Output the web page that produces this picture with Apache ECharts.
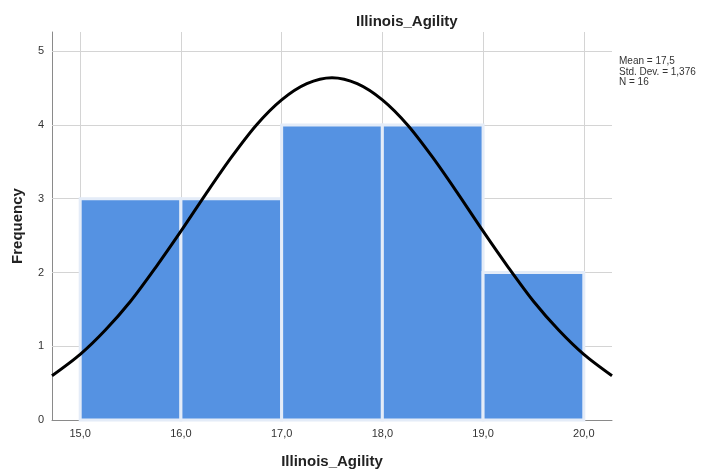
<!DOCTYPE html>
<html>
<head>
<meta charset="utf-8">
<script src="https://cdn.jsdelivr.net/npm/echarts@6/dist/echarts.min.js"></script>
<style>html,body{margin:0;padding:0;background:#fff}#c{width:704px;height:474px}</style>
</head>
<body>
<div id="c"></div>
<script>
// Histogram bins (lower edge, upper edge) and frequencies
var binLo = [15, 16, 17, 18, 19];
var binHi = [16, 17, 18, 19, 20];
var freq  = [3, 3, 4, 4, 2];
// Normal curve points
var curveX = [14.72, 15.0, 15.25, 15.5, 15.75, 16.0, 16.25, 16.5, 16.75, 17.0, 17.25, 17.5, 17.75, 18.0, 18.25, 18.5, 18.75, 19.0, 19.25, 19.5, 19.75, 20.0, 20.28];
var curveY = [0.60, 0.89, 1.22, 1.61, 2.07, 2.56, 3.07, 3.56, 4.00, 4.34, 4.56, 4.64, 4.56, 4.34, 4.00, 3.56, 3.07, 2.56, 2.07, 1.61, 1.22, 0.89, 0.60];
var xTicks = [15, 16, 17, 18, 19, 20];
var yTicks = [0, 1, 2, 3, 4, 5];
var statsLines = ['Mean = 17,5', 'Std. Dev. = 1,376', 'N = 16'];
var titleText = 'Illinois_Agility';
var xName = 'Illinois_Agility';
var yName = 'Frequency';

var FONT = 'Liberation Sans, Arial, sans-serif';
var bars = binLo.map(function (lo, i) { return [lo, binHi[i], freq[i]]; });
var curve = curveX.map(function (x, i) { return [x, curveY[i]]; });

var chart = echarts.init(document.getElementById('c'), null, {renderer: 'canvas'});
chart.setOption({
  animation: false,
  backgroundColor: '#ffffff',
  title: [
    {text: titleText, left: 351, top: 9,
     textStyle: {fontFamily: FONT, fontSize: 15, fontWeight: 'bold', color: '#222'}},
    {text: statsLines.join('\n'), left: 614, top: 51,
     textStyle: {fontFamily: FONT, fontSize: 10, fontWeight: 'normal', color: '#333', lineHeight: 10.5}}
  ],
  grid: {left: 52, right: 92, top: 32, bottom: 52, containLabel: false},
  xAxis: {
    type: 'value', min: 14.72, max: 20.28,
    name: xName, nameLocation: 'middle', nameGap: 34,
    nameTextStyle: {fontFamily: FONT, fontSize: 15, fontWeight: 'bold', color: '#222'},
    axisLine: {show: true, lineStyle: {color: '#8a8a8a', width: 1}},
    axisTick: {show: false},
    splitLine: {show: false},
    axisLabel: {customValues: xTicks, fontFamily: FONT, fontSize: 11, color: '#333', margin: 8,
      formatter: function (v) { return v.toFixed(1).replace('.', ','); }}
  },
  yAxis: {
    type: 'value', min: 0, max: 5.26,
    name: yName, nameLocation: 'middle', nameGap: 27, nameRotate: 90,
    nameTextStyle: {fontFamily: FONT, fontSize: 15, fontWeight: 'bold', color: '#222'},
    axisLine: {show: true, lineStyle: {color: '#8a8a8a', width: 1}},
    axisTick: {show: false},
    splitLine: {show: false},
    axisLabel: {customValues: yTicks, fontFamily: FONT, fontSize: 11, color: '#333', margin: 8,
      formatter: function (v) { return String(v); }}
  },
  series: [
    {
      type: 'line', data: [], z: 1, silent: true,
      markLine: {
        z: 1, silent: true, symbol: 'none', label: {show: false},
        lineStyle: {color: '#d4d4d4', width: 1, type: 'solid'},
        data: xTicks.map(function (v) { return {xAxis: v}; })
          .concat(yTicks.filter(function (v) { return v > 0; }).map(function (v) { return {yAxis: v}; }))
      }
    },
    {
      type: 'custom', z: 2, data: bars,
      renderItem: function (params, api) {
        var p0 = api.coord([api.value(0), 0]);
        var p1 = api.coord([api.value(1), api.value(2)]);
        return {
          type: 'rect',
          shape: {x: p0[0], y: p1[1], width: p1[0] - p0[0], height: p0[1] - p1[1]},
          style: {fill: '#5592e2', stroke: '#e4ecf8', lineWidth: 3}
        };
      }
    },
    {
      type: 'line', z: 3, data: curve, smooth: 0.3, showSymbol: false,
      lineStyle: {color: '#000', width: 3}
    }
  ]
});
</script>
</body>
</html>
